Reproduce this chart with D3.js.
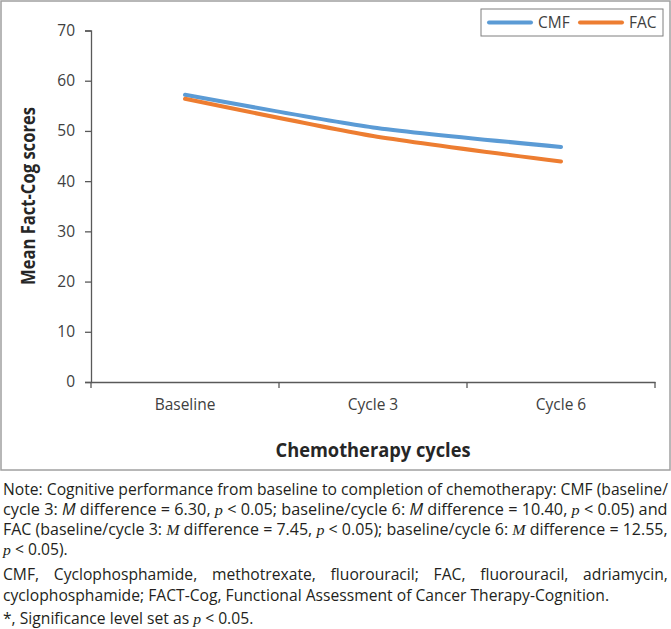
<!DOCTYPE html>
<html>
<head>
<meta charset="utf-8">
<script src="https://cdn.jsdelivr.net/npm/d3@7"></script>
<style>
  body { margin: 0; background: #fff; }
  svg { display: block; font-family: "Open Sans", sans-serif; }
</style>
</head>
<body>
<svg id="chart" width="671" height="629"></svg>
<script>
// Mean FACT-Cog scores across chemotherapy cycles, CMF vs FAC
const cycles = ["Baseline", "Cycle 3", "Cycle 6"];
const cmfScores = [57.2, 50.7, 46.8];
const facScores = [56.4, 49.0, 43.9];
const seriesNames = ["CMF", "FAC"];
const yTicks = [0, 10, 20, 30, 40, 50, 60, 70];

const width = 671, height = 629;
const margin = {top: 30.5, right: 16, bottom: 247, left: 91};
const axisColor = "#595959";
const textColor = "#404040";

const svg = d3.select("#chart");

const series = seriesNames.map((name, i) => ({
  name,
  values: (i === 0 ? cmfScores : facScores).map((v, j) => ({cycle: cycles[j], value: v}))
}));

const x = d3.scaleBand()
  .domain(cycles)
  .range([margin.left, width - margin.right]);

const y = d3.scaleLinear()
  .domain([0, 70])
  .range([height - margin.bottom, margin.top]);

const color = d3.scaleOrdinal()
  .domain(seriesNames)
  .range(["#5b9bd5", "#ed7d31"]);

// outer frame
svg.append("rect")
  .attr("x", 1).attr("y", 1)
  .attr("width", width - 2).attr("height", 469)
  .attr("fill", "none")
  .attr("stroke", "#a0a0a0")
  .attr("stroke-width", 1.5);

// Y axis
const yAxis = svg.append("g")
  .attr("transform", `translate(${margin.left},0)`)
  .call(d3.axisLeft(y).tickValues(yTicks).tickSize(6).tickPadding(10));
yAxis.select(".domain").attr("stroke", axisColor).attr("stroke-width", 1.3);
yAxis.selectAll(".tick line").attr("stroke", axisColor).attr("stroke-width", 1.3);
yAxis.selectAll(".tick text")
  .attr("fill", textColor)
  .style("font-size", "15.5px")
  .style("font-family", "Open Sans");

// X axis: labels at band centres, ticks on band edges
const xAxis = svg.append("g")
  .attr("transform", `translate(0,${y(0)})`)
  .call(d3.axisBottom(x).tickSize(0).tickPadding(17));
xAxis.select(".domain").attr("stroke", axisColor).attr("stroke-width", 1.3);
xAxis.selectAll(".tick text")
  .attr("fill", textColor)
  .style("font-size", "15.5px")
  .style("font-family", "Open Sans");

const edges = cycles.map(c => x(c)).concat([x(cycles[cycles.length - 1]) + x.bandwidth()]);
xAxis.selectAll(".edge")
  .data(edges)
  .join("line")
  .attr("class", "edge")
  .attr("x1", d => d).attr("x2", d => d)
  .attr("y1", 0).attr("y2", 6)
  .attr("stroke", axisColor)
  .attr("stroke-width", 1.3);

// lines (lightly smoothed, like the spreadsheet original)
const line = d3.line()
  .x(d => x(d.cycle) + x.bandwidth() / 2)
  .y(d => y(d.value))
  .curve(d3.curveCardinal.tension(0.4));

svg.append("g")
  .selectAll("path")
  .data(series)
  .join("path")
  .attr("fill", "none")
  .attr("stroke", d => color(d.name))
  .attr("stroke-width", 4)
  .attr("stroke-linecap", "round")
  .attr("stroke-linejoin", "round")
  .attr("d", d => line(d.values));

// axis titles
svg.append("text")
  .attr("x", x.range()[0] + (x.range()[1] - x.range()[0]) / 2)
  .attr("y", 457)
  .attr("text-anchor", "middle")
  .attr("textLength", 195)
  .attr("lengthAdjust", "spacingAndGlyphs")
  .attr("fill", "#262626")
  .style("font-size", "19px")
  .style("font-weight", "bold")
  .text("Chemotherapy cycles");

svg.append("text")
  .attr("transform", "rotate(-90)")
  .attr("x", -196)
  .attr("y", 35)
  .attr("text-anchor", "middle")
  .attr("textLength", 178)
  .attr("lengthAdjust", "spacingAndGlyphs")
  .attr("fill", "#262626")
  .style("font-size", "19px")
  .style("font-weight", "bold")
  .text("Mean Fact-Cog scores");

// legend (top right, boxed)
const legend = svg.append("g").attr("transform", "translate(481,9)");
legend.append("rect")
  .attr("width", 182).attr("height", 27)
  .attr("fill", "#fff")
  .attr("stroke", "#7f7f7f")
  .attr("stroke-width", 1);

seriesNames.forEach((name, i) => {
  const row = legend.append("g").attr("transform", `translate(${8 + i * 91},13.5)`);
  row.append("line")
    .attr("x1", 0).attr("x2", 42)
    .attr("stroke", color(name))
    .attr("stroke-width", 4)
    .attr("stroke-linecap", "round");
  row.append("text")
    .attr("x", 49)
    .attr("y", 5.5)
    .attr("fill", textColor)
    .style("font-size", "15.5px")
    .text(name);
});

// note under the chart; "i" = sans italic, "s" = serif italic
// mode "fit": squeeze to the width; "words": justify through word spacing; "plain": common squeeze only
const noteLines = [
  {y: 495, width: 665, mode: "fit", parts: [["Note: Cognitive performance from baseline to completion of chemotherapy: CMF (baseline/", ""]]},
  {y: 515, width: 665, mode: "fit", parts: [["cycle 3: ", ""], ["M", "i"], [" difference = 6.30, ", ""], ["p", "s"], [" < 0.05; baseline/cycle 6: ", ""], ["M", "i"], [" difference = 10.40, ", ""], ["p", "s"], [" < 0.05) and", ""]]},
  {y: 535, width: 665, mode: "fit", parts: [["FAC (baseline/cycle 3: ", ""], ["M", "s"], [" difference = 7.45, ", ""], ["p", "s"], [" < 0.05); baseline/cycle 6: ", ""], ["M", "s"], [" difference = 12.55,", ""]]},
  {y: 555, mode: "plain", parts: [["p", "s"], [" < 0.05).", ""]]},
  {y: 580, width: 665, mode: "words", parts: [["CMF, Cyclophosphamide, methotrexate, fluorouracil; FAC, fluorouracil, adriamycin,", ""]]},
  {y: 601, mode: "plain", parts: [["cyclophosphamide; FACT-Cog, Functional Assessment of Cancer Therapy-Cognition.", ""]]},
  {y: 624, mode: "plain", parts: [["*, Significance level set as ", ""], ["p", "s"], [" < 0.05.", ""]]}
];

const noteText = svg.append("g")
  .selectAll("text")
  .data(noteLines)
  .join("text")
  .attr("x", 0)
  .attr("y", d => d.y)
  .attr("fill", "#231f20")
  .style("font-size", "15.5px");

noteText.each(function(d) {
  d3.select(this).selectAll("tspan")
    .data(d.parts)
    .join("tspan")
    .style("font-style", p => p[1] ? "italic" : null)
    .style("font-family", p => p[1] === "s" ? "Liberation Serif" : null)
    .text(p => p[0]);
});

// glyph squeeze taken from the first full line, reused for the other lines
const k = 665 / noteText.filter((d, i) => i === 0).node().getComputedTextLength();
noteText.each(function(d) {
  const w = this.getComputedTextLength();
  if (d.mode === "fit") {
    d3.select(this).attr("transform", `translate(3,0) scale(${d.width / w},1)`);
  } else if (d.mode === "words") {
    const spaces = d.parts.map(p => p[0]).join("").split(" ").length - 1;
    d3.select(this)
      .attr("transform", `translate(3,0) scale(${k},1)`)
      .style("word-spacing", `${(d.width / k - w) / spaces}px`);
  } else {
    d3.select(this).attr("transform", `translate(3,0) scale(${k},1)`);
  }
});
</script>
</body>
</html>
